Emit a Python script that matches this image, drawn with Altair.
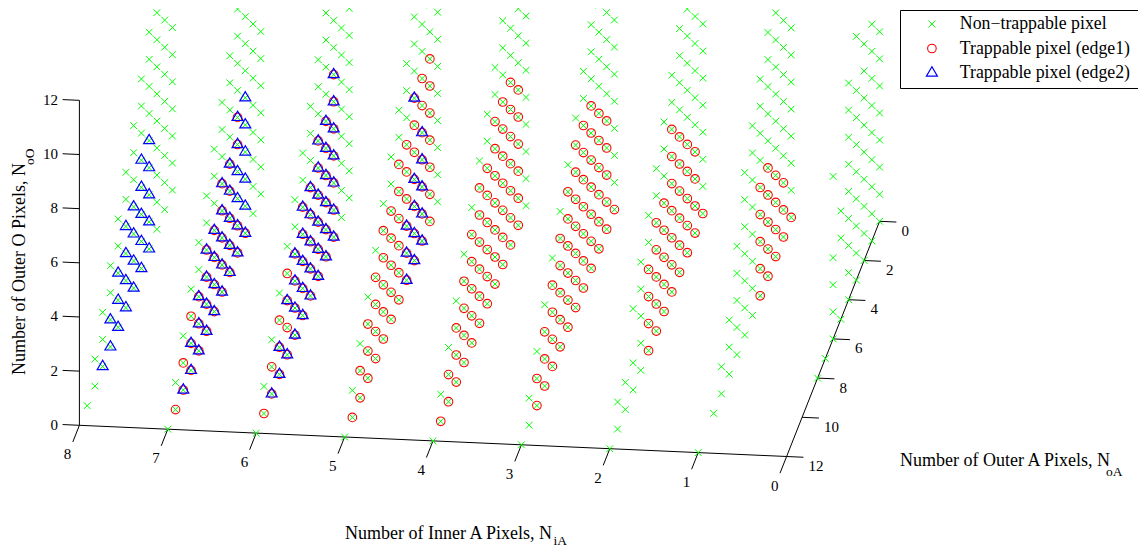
import altair as alt
import pandas as pd

# One list per plane of inner A pixels (N_iA). Each list has one string per N_oA = 0..12;
# the position in a string is N_oO. x = non-trappable, c = edge1, t = edge2, b = edge1 and edge2.
plane_0 = ["xxxxxxxxx", "xxxxxxxxx", "xxxxxxxxx", "xxxxxxxx.x", "xxxxxxxxx", "x..xx", "xxxx..x", "x", "x", "", "", "", ""]
plane_1 = ["cxxxxxxxx", "cccxxxxxx", "ccccxxxxxx", "cccccxxxxx", "cccccxxxx", "xxxxxxxx", "xxxxxxx", "xxxxx", "xxx", "xx", "x", "", "x"]
plane_2 = ["cxxxxxxx", "ccccxxxxx", "cccccxxxxx", "ccccccxxxx", "cccccccxx", "cccccxxx", "cccccxx", "ccccxx", "xxxxx", "xx.x", "xx", "xx", "x"]
plane_3 = ["cxxxxxxx", "cccccxxxx", "ccccccxxxx", "cccccccxxx", "cccccccxx", "cccccccx", "ccccccx", "cccccx", "ccccx", "cccx", "ccx", "xx", "x"]
plane_4 = ["xxxxxxxx", "ccccccxxx", "cccccccxxx", "cccccccxxx", "cccccccxx", "ccccccxx", "ccccccx", "cccccx", "ccccx", "cccx", "ccx", "cx", "x"]
plane_5 = ["xxxxxxxx", "cccccccxx", "bbbbbccxx", "bbbbccbxxx", "bbbcccxxx", "ccccccxx", "cccccxx", "cccccx", "ccccx", "cccx", "ccx", "cx", "x"]
plane_6 = ["xxxxxxxx", "xxxxxxxxx", "bbbbbbbxx", "bbbbbbxxxx", "bbbbbbxxx", "bbbbbxxx", "bbbbbxx", "bbbbxx", "bcbcx", "bbcx", "bcx", "cx", "x"]
plane_7 = ["xxxxxxxx", "xxxxxxxx", "btttttxxx", "bbttbbxxxx", "bbbbbxxxx", "bbbbbxxx", "bbbbxxx", "bbbbxx", "bbbxx", "bbcx", "bcx", "cx", "x"]
plane_8 = ["xxxxxxxx", "xxxxxxxx", "xxxxxxxxx", "tttttxxxx", "tttttxxx", "ttttxxx", "ttttxx", "tttxx", "ttxx", "txx", "xx", "x", ""]
planes = [plane_0, plane_1, plane_2, plane_3, plane_4, plane_5, plane_6, plane_7, plane_8]

class_names = ["Non\u2212trappable pixel", "Trappable pixel (edge1)", "Trappable pixel (edge2)"]
class_colors = ["#00ff00", "#ff0000", "#0000ff"]
class_shapes = ["M-1,-1L1,1M-1,1L1,-1", "circle", "M0,-1.13L-1,0.56L1,0.56Z"]
class_sizes = [46, 74, 121]
class_strokes = [1, 1.1, 1.2]

inner_ticks = [0, 1, 2, 3, 4, 5, 6, 7, 8]
outer_a_ticks = [0, 2, 4, 6, 8, 10, 12]
outer_o_ticks = [0, 2, 4, 6, 8, 10, 12]

FONT = "Liberation Serif"
W, H = 1130, 540


def sx(i, a, o=0):
    return 879.6 - 88.4 * i - 7.75 * a


def sy(i, a, o=0):
    return 221.3 - 3.9 * i + 19.6 * a - 27.08 * o


pts = []
for cls, codes in enumerate(["xcbt", "cb", "tb"]):
    for i, plane in enumerate(planes):
        for a, col in enumerate(plane):
            for o, ch in enumerate(col):
                if ch in codes:
                    pts.append({"px": sx(i, a, o), "py": sy(i, a, o), "cls": class_names[cls]})
points_df = pd.DataFrame(pts)

segs = []


def seg(p, q):
    segs.append({"x": sx(*p), "y": sy(*p), "x2": sx(*q), "y2": sy(*q)})


seg((8, 12, 0), (0, 12, 0))
seg((0, 12, 0), (0, 0, 0))
seg((8, 12, 0), (8, 12, 12))
for i in inner_ticks:
    seg((i, 12, 0), (i, 12.85, 0))
for a in outer_a_ticks:
    seg((0, a, 0), (-0.19, a, 0))
for o in outer_o_ticks:
    seg((8, 12, o), (8.19, 12, o))
segs_df = pd.DataFrame(segs)

xs = alt.Scale(domain=[8, 8 + W], nice=False, zero=False)
ys = alt.Scale(domain=[8 + H, 8], nice=False, zero=False)
X = alt.X("x:Q", scale=xs, axis=None)
Y = alt.Y("y:Q", scale=ys, axis=None)

rules = alt.Chart(segs_df).mark_rule(color="#000000", strokeWidth=1).encode(
    x=X, y=Y, x2="x2:Q", y2="y2:Q"
)

legend = alt.Legend(
    orient="none", legendX=892, legendY=2, title=" ", titleOrient="right", titlePadding=22,
    titleFontSize=4, strokeColor="#000000", fillColor="#ffffff", padding=6,
    labelFont=FONT, labelFontSize=17.8, labelColor="#000000", labelOffset=19, labelLimit=400,
    symbolOffset=17, rowPadding=6.5, clipHeight=16,
)
enc_domain = class_names
points = alt.Chart(points_df).mark_point(filled=False, opacity=1).encode(
    x=alt.X("px:Q", scale=xs, axis=None),
    y=alt.Y("py:Q", scale=ys, axis=None),
    color=alt.Color("cls:N", scale=alt.Scale(domain=enc_domain, range=class_colors), legend=legend),
    shape=alt.Shape("cls:N", scale=alt.Scale(domain=enc_domain, range=class_shapes), legend=legend),
    size=alt.Size("cls:N", scale=alt.Scale(type="ordinal", domain=enc_domain, range=class_sizes), legend=legend),
    strokeWidth=alt.StrokeWidth("cls:N", scale=alt.Scale(type="ordinal", domain=enc_domain, range=class_strokes), legend=legend),
)

labels = []
for i in inner_ticks:
    labels.append({"t": str(i), "x": sx(i, 12) - 11.8, "y": sy(i, 12) + 29, "a": "center"})
for a in outer_a_ticks:
    labels.append({"t": str(a), "x": sx(0, a) + 22, "y": sy(0, a) + 9.5, "a": "left"})
for o in outer_o_ticks:
    labels.append({"t": str(o), "x": 58, "y": sy(8, 12, o) - 0.5, "a": "right"})
labels_df = pd.DataFrame(labels)


def text_layer(df, align):
    return alt.Chart(df).mark_text(
        font=FONT, fontSize=15, align=align, baseline="middle", color="#000000"
    ).encode(x=X, y=Y, text="t:N")


tick_text = [text_layer(labels_df[labels_df.a == al], al) for al in ["center", "left", "right"]]

titles_h = pd.DataFrame({
    "t": ["Number of Outer A Pixels, N", "Number of Inner A Pixels, N"],
    "x": [900, 345], "y": [465.5, 538.8],
})
subs_h = pd.DataFrame({"t": ["oA", "iA"], "x": [1106, 553.5], "y": [475.5, 545]})
titles_v = pd.DataFrame({"t": ["Number of Outer O Pixels, N"], "x": [25], "y": [375]})
subs_v = pd.DataFrame({"t": ["oO"], "x": [33.5], "y": [165]})


def title_layer(df, size, angle=0):
    return alt.Chart(df).mark_text(
        font=FONT, fontSize=size, align="left", baseline="alphabetic", angle=angle, color="#000000"
    ).encode(x=X, y=Y, text="t:N")


chart = alt.layer(
    rules,
    points,
    *tick_text,
    title_layer(titles_h, 18),
    title_layer(subs_h, 13.5),
    title_layer(titles_v, 18, 270),
    title_layer(subs_v, 13.5, 270),
).properties(
    width=W, height=H, padding=0, autosize=alt.AutoSizeParams(type="none")
).configure_view(stroke=None)

chart.save("out.html", embed_options={"renderer": "svg", "actions": False})
